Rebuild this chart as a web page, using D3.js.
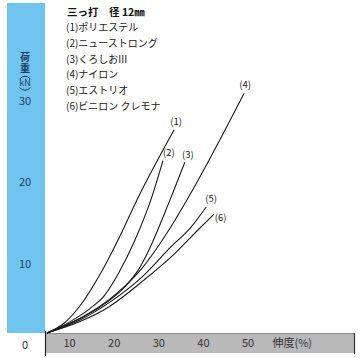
<!DOCTYPE html>
<html><head><meta charset="utf-8">
<script src="https://cdn.jsdelivr.net/npm/d3@7"></script>
<style>
html,body{margin:0;padding:0;background:#fff;}
svg{display:block;font-family:"Noto Sans CJK JP","Noto Sans",sans-serif;}
</style></head>
<body>
<script>
// ---- data ----
const title = "三っ打　径 12㎜";
const seriesNames = ["(1)ポリエステル","(2)ニューストロング","(3)くろしおIII","(4)ナイロン","(5)エストリオ","(6)ビニロン クレモナ"];
const seriesTags = ["(1)","(2)","(3)","(4)","(5)","(6)"];
// elongation (%) and load (kN) values per series
const s1x = [0, 3.8, 7.2, 12.1, 15.9, 20.2, 28.5];
const s1y = [0, 1.2, 3.2, 7.4, 11.4, 16.4, 25.0];
const s2x = [0, 5.2, 9.6, 13.0, 16.1, 19.7, 23.3, 26.0];
const s2y = [0, 1.4, 3.0, 4.7, 7.4, 11.4, 16.4, 21.2];
const s3x = [0, 6.3, 11.9, 17.5, 20.4, 22.4, 27.6, 30.9];
const s3y = [0, 1.5, 3.2, 5.7, 7.7, 9.7, 16.4, 21.0];
const s4x = [0, 8.1, 15.7, 20.9, 26.9, 31.4, 44.2];
const s4y = [0, 2.0, 4.9, 7.7, 12.3, 16.4, 29.5];
const s5x = [0, 7.4, 14.1, 21.7, 27.6, 32.1, 35.7];
const s5y = [0, 1.6, 3.8, 7.1, 10.5, 12.9, 15.5];
const s6x = [0, 7.4, 14.1, 21.7, 28.7, 33.9, 37.4];
const s6y = [0, 1.4, 3.3, 6.5, 9.8, 12.7, 14.6];
const xTickValues = [10, 20, 30, 40, 50];
const yTickValues = [10, 20, 30];
const xAxisTitle = "伸度(%)";
const yAxisTitle = "荷重";
const yUnit = "kN";

// ---- layout ----
const W = 360, H = 358;
const svg = d3.select("body").append("svg").attr("width", W).attr("height", H);
const x = d3.scaleLinear().domain([0, 60]).range([47, 47 + 60 * 4.46]);
const y = d3.scaleLinear().domain([0, 30]).range([333, 333 - 30 * 8.13]);
const labelShiftX = -22, labelShiftY = 12;

// blue y band
svg.append("rect").attr("x", 7).attr("y", 3).attr("width", 38).attr("height", 330).attr("fill", "#6fc4f0");
// zero box
svg.append("rect").attr("x", 7).attr("y", 333).attr("width", 38).attr("height", 22).attr("fill", "#fff");
// grey x band
svg.append("rect").attr("x", 45).attr("y", 333).attr("width", 310).attr("height", 20).attr("fill", "#b9b9b9");
svg.append("line").attr("x1", 45).attr("x2", 355).attr("y1", 333.5).attr("y2", 333.5).attr("stroke", "#8a8a8a").attr("stroke-width", 1);
svg.append("line").attr("x1", 45.5).attr("x2", 45.5).attr("y1", 331).attr("y2", 356).attr("stroke", "#222").attr("stroke-width", 1.2);
svg.append("line").attr("x1", 354.5).attr("x2", 354.5).attr("y1", 333).attr("y2", 354).attr("stroke", "#333").attr("stroke-width", 1.2);

// y ticks
const navy = "#1d3b6b";
svg.selectAll("text.yt").data(yTickValues).join("text").attr("class", "yt")
  .attr("x", 25).attr("y", d => y(d) + labelShiftY).attr("dy", "0.36em")
  .attr("text-anchor", "middle").attr("font-size", 11).attr("fill", navy).text(d => d);
svg.append("text").attr("x", x(0) + labelShiftX).attr("y", y(0) + labelShiftY).attr("dy", "0.36em")
  .attr("text-anchor", "middle").attr("font-size", 11).attr("fill", "#333").text("0");
// y title (vertical writing)
svg.append("text").attr("x", 25).attr("y", 52)
  .style("writing-mode", "vertical-rl").style("text-orientation", "upright")
  .attr("letter-spacing", 1.5)
  .attr("font-size", 10).attr("font-weight", "bold").attr("fill", navy).text(yAxisTitle);
// vertical parentheses drawn as arcs around the unit
svg.append("path").attr("d", "M19.5,79 Q25,73.5 30.5,79").attr("fill", "none").attr("stroke", navy).attr("stroke-width", 1);
svg.append("text").attr("x", 25).attr("y", 83).attr("dy", "0.36em").attr("text-anchor", "middle")
  .attr("font-size", 9).attr("fill", navy).text(yUnit);
svg.append("path").attr("d", "M19.5,87.5 Q25,93 30.5,87.5").attr("fill", "none").attr("stroke", navy).attr("stroke-width", 1);

// x ticks
svg.selectAll("text.xt").data(xTickValues).join("text").attr("class", "xt")
  .attr("x", d => x(d) + labelShiftX).attr("y", 343).attr("dy", "0.36em")
  .attr("text-anchor", "middle").attr("font-size", 11).attr("fill", "#333").text(d => d);
svg.append("text").attr("x", x(55)).attr("y", 343).attr("dy", "0.36em")
  .attr("text-anchor", "middle").attr("font-size", 11).attr("fill", "#333").text(xAxisTitle);

// title + legend list
svg.append("text").attr("x", 67).attr("y", 12).attr("dy", "0.36em").attr("font-size", 10.5)
  .attr("font-weight", "bold").attr("fill", "#111").text(title);
svg.selectAll("text.lg").data(seriesNames).join("text").attr("class", "lg")
  .attr("x", 66).attr("y", (d, i) => 27.5 + i * 15.7).attr("dy", "0.36em")
  .attr("font-size", 10).attr("fill", "#1a1a1a").text(d => d);

// curves
const series = [[s1x, s1y], [s2x, s2y], [s3x, s3y], [s4x, s4y], [s5x, s5y], [s6x, s6y]]
  .map(([xs, ys]) => xs.map((v, i) => [v, ys[i]]));
const line = d3.line().x(d => x(d[0])).y(d => y(d[1])).curve(d3.curveMonotoneX);
svg.selectAll("path.c").data(series).join("path").attr("class", "c")
  .attr("d", line).attr("fill", "none").attr("stroke", "#1a1a1a").attr("stroke-width", 1.1);

// end tags
const tagOffsets = [[2, -8, "middle"], [6, -8, "middle"], [3, -8, "middle"], [1, -9, "middle"], [5, -8, "middle"], [1, 3, "start"]];
svg.selectAll("text.tag").data(series).join("text").attr("class", "tag")
  .attr("x", (d, i) => x(d[d.length - 1][0]) + tagOffsets[i][0])
  .attr("y", (d, i) => y(d[d.length - 1][1]) + tagOffsets[i][1])
  .attr("dy", "0.36em").attr("text-anchor", (d, i) => tagOffsets[i][2])
  .attr("font-size", 9.5).attr("fill", "#1a1a1a").text((d, i) => seriesTags[i]);
</script>
</body></html>
